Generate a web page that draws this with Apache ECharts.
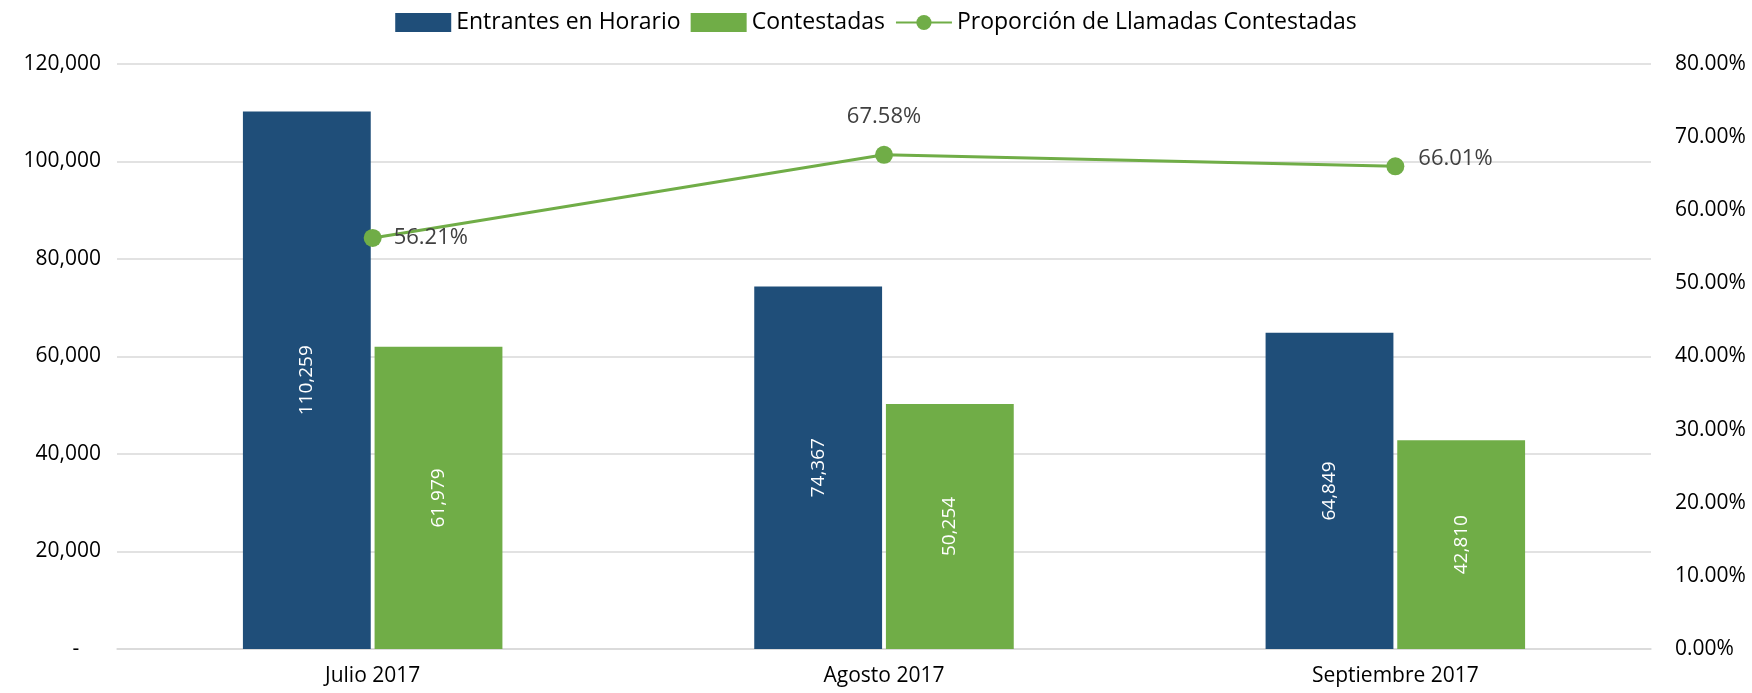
<!DOCTYPE html>
<html>
<head>
<meta charset="utf-8">
<script src="https://cdn.jsdelivr.net/npm/echarts@6/dist/echarts.min.js"></script>
<style>
  html, body { margin: 0; padding: 0; background: #fff; }
  #chart { width: 1752px; height: 693px; }
</style>
</head>
<body>
<div id="chart"></div>
<script>
const months = ['Julio 2017', 'Agosto 2017', 'Septiembre 2017'];
const entrantes = [110259, 74367, 64849];
const contestadas = [61979, 50254, 42810];
const proporcion = [0.5621, 0.6758, 0.6601];

const leftTicks = { min: 0, max: 120000, interval: 20000 };
const rightTicks = { min: 0, max: 0.8, interval: 0.1 };

const BLUE = '#1F4E79';
const GREEN = '#70AD47';
const FONT = '"Open Sans", "Noto Sans", sans-serif';

const chart = echarts.init(document.getElementById('chart'));

// per-point label placement for the ratio line, like in the Excel original
const lineLabelPos = [
  { position: 'right', distance: 12 },
  { position: 'top', distance: 18 },
  { position: 'right', distance: 14, offset: [0, -8] }
];

const barLabel = {
  show: true,
  position: 'inside',
  rotate: 90,
  color: '#fff',
  fontSize: 19,
  fontFamily: FONT,
  formatter: p => p.value.toLocaleString('en-US')
};

chart.setOption({
  animation: false,
  textStyle: { fontFamily: FONT },
  legend: {
    top: 6,
    left: 'center',
    itemWidth: 56,
    itemHeight: 19,
    itemGap: 10,
    textStyle: { fontSize: 23, color: '#000', fontFamily: FONT },
    data: [
      { name: 'Entrantes en Horario', icon: 'rect' },
      { name: 'Contestadas', icon: 'rect' },
      { name: 'Proporción de Llamadas Contestadas' }
    ]
  },
  grid: { left: 117, right: 101, top: 64, bottom: 44 },
  xAxis: {
    type: 'category',
    data: months,
    axisTick: { show: false },
    axisLine: { lineStyle: { color: '#d9d9d9', width: 1.5 } },
    axisLabel: { fontSize: 21, color: '#000', margin: 17, fontFamily: FONT }
  },
  yAxis: [
    {
      type: 'value',
      min: leftTicks.min,
      max: leftTicks.max,
      interval: leftTicks.interval,
      axisLine: { show: false },
      axisTick: { show: false },
      splitLine: { lineStyle: { color: '#d9d9d9', width: 1.5 } },
      axisLabel: {
        fontSize: 21,
        color: '#000',
        margin: 16,
        fontFamily: FONT,
        formatter: v => v === 0 ? '-    ' : v.toLocaleString('en-US')
      }
    },
    {
      type: 'value',
      min: rightTicks.min,
      max: rightTicks.max,
      interval: rightTicks.interval,
      axisLine: { show: false },
      axisTick: { show: false },
      splitLine: { show: false },
      axisLabel: {
        fontSize: 21,
        color: '#000',
        margin: 24,
        fontFamily: FONT,
        formatter: v => (v * 100).toFixed(2) + '%'
      }
    }
  ],
  series: [
    {
      name: 'Entrantes en Horario',
      type: 'bar',
      barWidth: '25%',
      barGap: '3%',
      itemStyle: { color: BLUE },
      label: barLabel,
      data: entrantes
    },
    {
      name: 'Contestadas',
      type: 'bar',
      barWidth: '25%',
      itemStyle: { color: GREEN },
      label: barLabel,
      data: contestadas
    },
    {
      name: 'Proporción de Llamadas Contestadas',
      type: 'line',
      yAxisIndex: 1,
      symbol: 'circle',
      symbolSize: 18,
      lineStyle: { color: GREEN, width: 3 },
      itemStyle: { color: GREEN },
      label: {
        show: true,
        color: '#404040',
        fontSize: 22,
        fontFamily: FONT,
        formatter: p => (p.value * 100).toFixed(2) + '%'
      },
      data: proporcion.map((v, i) => ({
        value: v,
        label: lineLabelPos[i]
      }))
    }
  ]
});
</script>
</body>
</html>
